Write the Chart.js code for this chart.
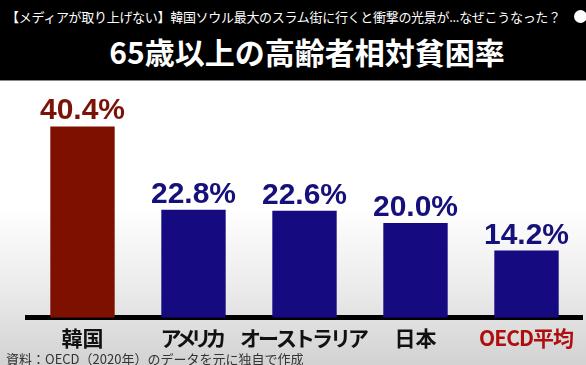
<!DOCTYPE html>
<html>
<head>
<meta charset="utf-8">
<script src="https://cdn.jsdelivr.net/npm/chart.js@4"></script>
<style>
  html, body { margin: 0; padding: 0; }
  body { width: 586px; height: 365px; overflow: hidden; position: relative; font-family: 'Noto Sans CJK JP', sans-serif; }
  #head { position: absolute; left: 0; top: 0; width: 586px; height: 80px; background: #000; border-bottom: 1px solid #8a8a8a; }
  #headline { position: absolute; left: 6px; top: 7px; color: #fff; font-size: 13px; white-space: nowrap; letter-spacing: -0.3px; }
  #icon { position: absolute; left: 574px; top: 10px; width: 13px; height: 13px; border-radius: 50%; background: #fff; }
  #title { position: absolute; left: 0; width: 614px; top: 29px; text-align: center; color: #fff; font-size: 30px; font-weight: 700; white-space: nowrap; }
  #chartBox { position: absolute; left: 0; top: 81px; width: 586px; height: 284px;
    background: linear-gradient(to bottom, #ffffff 0%, #ffffff 45%, #ececec 72%, #d2d2d2 100%); }
  #source { position: absolute; left: 6px; top: 349px; font-size: 13px; color: #333; white-space: nowrap; }
</style>
</head>
<body>
<div id="head">
  <div id="headline">【メディアが取り上げない】韓国ソウル最大のスラム街に行くと衝撃の光景が...なぜこうなった？</div>
  <div id="icon"></div>
  <div id="title">65歳以上の高齢者相対貧困率</div>
</div>
<div id="chartBox"><canvas id="poverty" width="586" height="284"></canvas></div>
<div id="source">資料：OECD（2020年）のデータを元に独自で作成</div>
<script>
const countries = ['韓国', 'アメリカ', 'オーストラリア', '日本', 'OECD平均'];
const rates = [40.4, 22.8, 22.6, 20.0, 14.2];
const barColors = ['#7e1000', '#150a80', '#150a80', '#150a80', '#150a80'];
const valueColors = ['#7a1408', '#16107a', '#16107a', '#16107a', '#16107a'];
const tickColors = ['#111', '#111', '#111', '#111', '#b00e0e'];
// kana in the original are set tighter than kanji
const tickSpacing = [0, -6, -3, 0, -1];

// draw the percent text above each bar
const valueLabels = {
  id: 'valueLabels',
  afterDatasetsDraw(chart) {
    const ctx = chart.ctx;
    const meta = chart.getDatasetMeta(0);
    ctx.save();
    ctx.font = 'bold 30px "Liberation Sans", sans-serif';
    ctx.textAlign = 'center';
    ctx.textBaseline = 'alphabetic';
    meta.data.forEach((bar, i) => {
      ctx.fillStyle = valueColors[i];
      ctx.fillText(rates[i].toFixed(1) + '%', bar.x, bar.y - 7);
    });
    ctx.restore();
  },
};

// category names under the axis, each with its own letter spacing
const categoryLabels = {
  id: 'categoryLabels',
  afterDraw(chart) {
    const ctx = chart.ctx;
    const xScale = chart.scales.x;
    ctx.save();
    ctx.font = 'bold 21px "Noto Sans CJK JP"';
    ctx.textAlign = 'center';
    ctx.textBaseline = 'middle';
    countries.forEach((name, i) => {
      ctx.letterSpacing = tickSpacing[i] + 'px';
      ctx.fillStyle = tickColors[i];
      const x = xScale.getPixelForTick(i) + tickSpacing[i] / 2;
      ctx.fillText(name, x, xScale.top + 20);
    });
    ctx.restore();
  },
};

const ctx = document.getElementById('poverty').getContext('2d');
const myChart = new Chart(ctx, {
  type: 'bar',
  data: {
    labels: countries,
    datasets: [
      {
        data: rates,
        backgroundColor: barColors,
        borderColor: barColors,
        borderWidth: 0,
        barPercentage: 0.58,
        categoryPercentage: 1,
      },
    ],
  },
  options: {
    responsive: false,
    maintainAspectRatio: false,
    animation: false,
    layout: {
      padding: { left: 27, right: 4, top: 0, bottom: 10 },
    },
    scales: {
      x: {
        grid: { display: false, drawTicks: false },
        border: { display: true, color: '#000', width: 5 },
        ticks: {
          padding: 6,
          maxRotation: 0,
          minRotation: 0,
          autoSkip: false,
          color: 'rgba(0,0,0,0)',
          font: { family: 'Noto Sans CJK JP', size: 21, weight: 'bold' },
        },
      },
      y: {
        display: false,
        min: 0,
        max: 50,
      },
    },
    plugins: {
      legend: { display: false },
      tooltip: { enabled: false },
    },
  },
  plugins: [valueLabels, categoryLabels],
});
</script>
</body>
</html>
